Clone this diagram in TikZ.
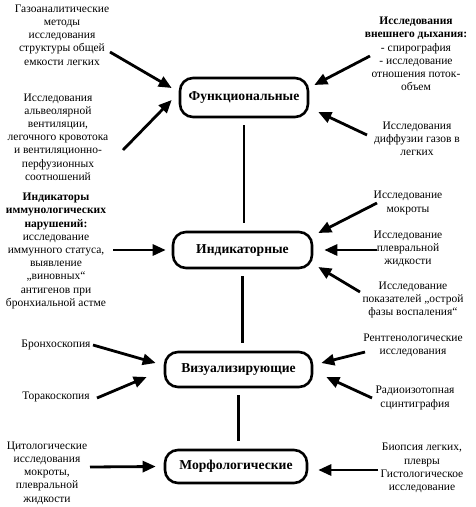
\documentclass[tikz,border=0pt]{standalone}
\usepackage{fontspec}
\setmainfont{Liberation Serif}
\usetikzlibrary{arrows.meta}

\begin{document}
\begin{tikzpicture}
[x=1pt,y=-1pt,
box/.style={draw,line width=2.6pt,rounded corners=13pt,inner sep=0pt,font=\fontsize{13.6}{15}\selectfont\bfseries},
txt/.style={align=center,inner sep=0pt,font=\fontsize{11.5}{13.2}\selectfont},
arr/.style={line width=2.8pt,-{Triangle[length=13pt,width=11pt]}},
link/.style={line width=2.8pt,shorten <=7pt,shorten >=8pt}]
\useasboundingbox (0,0) rectangle (476,507);
% boxes
\node[box,minimum width=128pt,minimum height=39pt] (fun) at (244,97.5) {Функциональные};
\node[box,minimum width=139pt,minimum height=36pt] (ind) at (242.5,250) {Индикаторные};
\node[box,minimum width=147pt,minimum height=35pt] (viz) at (238.5,369.5) {Визуализирующие};
\node[box,minimum width=142pt,minimum height=33pt] (mor) at (236,466.5) {Морфологические};
% texts
\node[txt] (tl1) at (62,35) {Газоаналитические\\методы\\исследования\\структуры общей\\емкости легких};
\node[txt] (tl2) at (58,137) {Исследования\\альвеолярной\\вентиляции,\\легочного кровотока\\и вентиляционно-\\перфузионных\\соотношений};
\node[txt] (tr1) at (416,54) {\textbf{Исследования}\\\textbf{внешнего дыхания:}\\- спирография\\- исследование\\отношения поток-\\объем};
\node[txt] (tr2) at (417,139) {Исследования\\диффузии газов в\\легких};
\node[txt] (il) at (56,251) {\textbf{Индикаторы}\\\textbf{иммунологических}\\\textbf{нарушений:}\\исследование\\иммунного статуса,\\выявление\\„виновных“\\антигенов при\\бронхиальной астме};
\node[txt] (ir1) at (408,203) {Исследование\\мокроты};
\node[txt] (ir2) at (408,249) {Исследование\\плевральной\\жидкости};
\node[txt] (ir3) at (413,300) {Исследование\\показателей „острой\\фазы воспаления“};
\node[txt] (vl1) at (56,345) {Бронхоскопия};
\node[txt] (vl2) at (56,397) {Торакоскопия};
\node[txt] (vr1) at (413,345) {Рентгенологические\\исследования};
\node[txt] (vr2) at (415,398) {Радиоизотопная\\сцинтиграфия};
\node[txt] (ml) at (47,473) {Цитологические\\исследования\\мокроты,\\плевральной\\жидкости};
\node[txt] (mr) at (422,468) {Биопсия легких,\\плевры\\Гистологическое\\исследование};
% free ends of the arrows
\coordinate (s1) at (110,52);
\coordinate (s2) at (123,150);
\coordinate (s3) at (370,56);
\coordinate (s4) at (367,135);
\coordinate (s5) at (113,250);
\coordinate (s6) at (377,203);
\coordinate (s7) at (377,250);
\coordinate (s8) at (360,292);
\coordinate (s9) at (93,345);
\coordinate (s10) at (97,398);
\coordinate (s11) at (365,352);
\coordinate (s12) at (372,398);
\coordinate (s13) at (90,467);
\coordinate (s14) at (378,470);
% arrows
\foreach \from/\to/\dx/\dy in {s1/fun.west/-7/-9.5,s2/fun.west/-7/2.5,s3/fun.east/5/-12.5,s4/fun.east/9/14.5,
  s5/ind.west/-6/0,s6/ind.east/5/-17,s7/ind.east/11/0,s8/ind.east/5/17,
  s9/viz.west/-8/-6.5,s10/viz.west/-17/7.5,s11/viz.east/8/-6.5,s12/viz.east/13/7.5,
  s13/mor.west/-8/0,s14/mor.east/10/3.5}
\draw[arr] (\from) -- ([shift={(\dx,\dy)}]\to);
% links
\foreach \from/\to in {fun/ind,ind/viz,viz/mor}
\draw[link] (\from.south) -- (\from.south |- \to.north);
\end{tikzpicture}
\end{document}
